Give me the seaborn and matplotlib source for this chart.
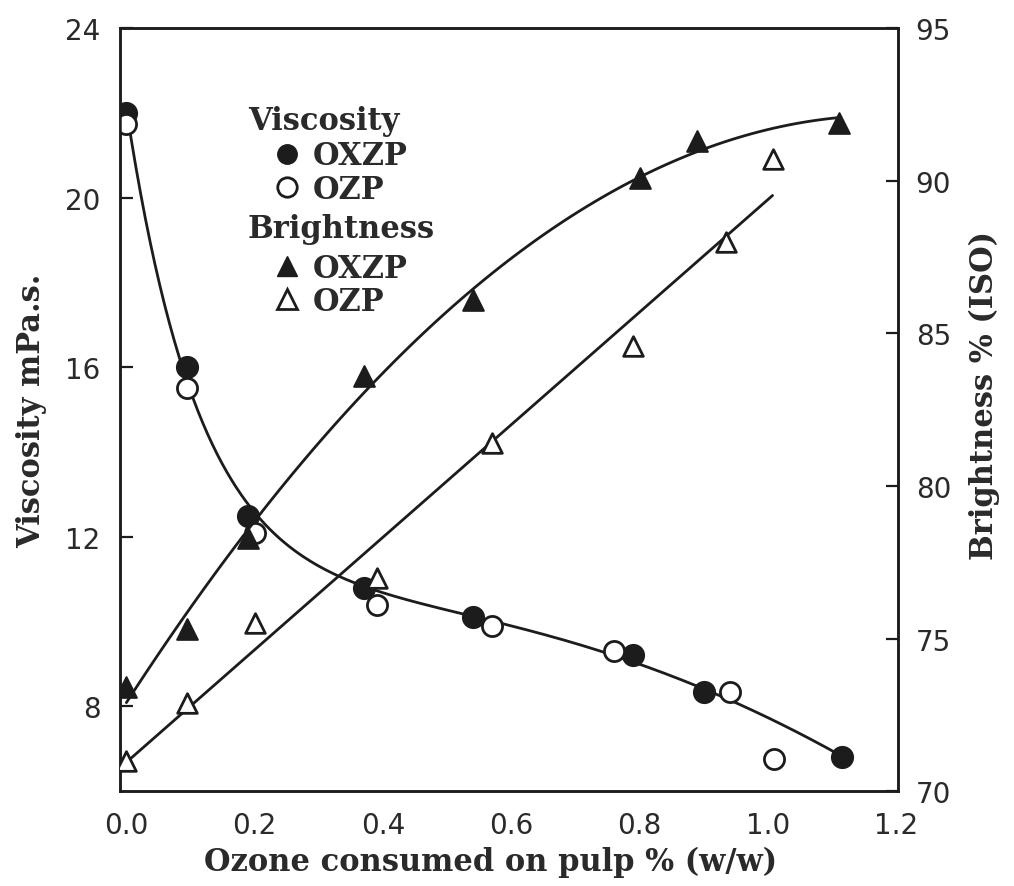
import numpy as np
import pandas as pd
import matplotlib.pyplot as plt
import seaborn as sns
from matplotlib.lines import Line2D

# --- Data ---
# Viscosity (left axis, mPa.s)
visc_oxzp_x = [0.0, 0.095, 0.19, 0.37, 0.54, 0.79, 0.90, 1.115]
visc_oxzp_y = [22.0, 16.0, 12.5, 10.8, 10.1, 9.2, 8.35, 6.8]
visc_ozp_x = [0.0, 0.095, 0.20, 0.39, 0.57, 0.76, 0.94, 1.01]
visc_ozp_y = [21.75, 15.5, 12.1, 10.4, 9.9, 9.3, 8.35, 6.75]

# Brightness (right axis, % ISO)
bright_oxzp_x = [0.0, 0.095, 0.19, 0.37, 0.54, 0.80, 0.89, 1.11]
bright_oxzp_y = [73.4, 75.3, 78.3, 83.6, 86.1, 90.1, 91.3, 91.9]
bright_ozp_x = [0.0, 0.095, 0.20, 0.39, 0.57, 0.79, 0.935, 1.007]
bright_ozp_y = [71.0, 72.9, 75.5, 77.0, 81.4, 84.6, 88.0, 90.7]

x_ticks = [0.0, 0.2, 0.4, 0.6, 0.8, 1.0, 1.2]
visc_ticks = [8, 12, 16, 20, 24]
bright_ticks = [70, 75, 80, 85, 90, 95]

ink = "#1c1c1c"
txt = "#2a2a2a"

sns.set_style("white")
plt.rcParams['font.family'] = ['DejaVu Sans']
plt.rcParams['text.color'] = txt
plt.rcParams['axes.labelcolor'] = txt
plt.rcParams['xtick.color'] = ink
plt.rcParams['ytick.color'] = ink
plt.rcParams['xtick.labelcolor'] = txt
plt.rcParams['ytick.labelcolor'] = txt

fig = plt.figure(figsize=(10.14, 8.87), dpi=100)
ax = fig.add_axes([0.1183, 0.107, 0.767, 0.860])
ax2 = ax.twinx()

# --- Viscosity: smooth decay curve fitted to the OXZP series ---
vx = np.array(visc_oxzp_x)
vy = np.array(visc_oxzp_y)
basis = lambda x: np.column_stack([np.ones_like(x), np.exp(-x / 0.12), x, x ** 2])
coef, *_ = np.linalg.lstsq(basis(vx), vy, rcond=None)
xs = np.linspace(vx.min(), vx.max(), 300)
visc_fit = pd.DataFrame({"x": xs, "y": basis(xs) @ coef})
sns.lineplot(data=visc_fit, x="x", y="y", color=ink, lw=2.0, ax=ax)

sns.scatterplot(x=visc_oxzp_x, y=visc_oxzp_y, marker="o", s=230, color=ink,
                edgecolor=ink, linewidth=1.5, zorder=4, ax=ax)
sns.scatterplot(x=visc_ozp_x, y=visc_ozp_y, marker="o", s=210, color="white",
                edgecolor=ink, linewidth=2.0, zorder=4, ax=ax)

# --- Brightness: fitted lines per series ---
sns.regplot(x=bright_oxzp_x, y=bright_oxzp_y, order=2, ci=None, scatter=False,
            truncate=True, line_kws=dict(color=ink, lw=2.0), ax=ax2)
sns.regplot(x=bright_ozp_x, y=bright_ozp_y, order=1, ci=None, scatter=False,
            truncate=True, line_kws=dict(color=ink, lw=2.0), ax=ax2)
sns.scatterplot(x=bright_oxzp_x, y=bright_oxzp_y, marker="^", s=220, color=ink,
                edgecolor=ink, linewidth=1.5, zorder=4, ax=ax2)
sns.scatterplot(x=bright_ozp_x, y=bright_ozp_y, marker="^", s=200, color="white",
                edgecolor=ink, linewidth=2.0, zorder=4, ax=ax2)

# --- Axes ---
ax.set_xlim(-0.01, 1.202)
ax.set_ylim(6, 24)
ax2.set_ylim(70, 95)
ax.set_xticks(x_ticks)
ax.set_xticklabels([f"{t:.1f}" for t in x_ticks])
ax.set_yticks(visc_ticks)
ax2.set_yticks(bright_ticks)

for a in (ax, ax2):
    for s in a.spines.values():
        s.set_color(ink)
        s.set_linewidth(1.8)
ax.tick_params(axis="both", direction="in", length=9, width=1.6, labelsize=20)
ax.tick_params(axis="x", pad=14)
ax.tick_params(axis="y", pad=14)
ax.tick_params(axis="y", which="both", right=False)
ax2.tick_params(axis="y", direction="in", length=9, width=1.6, labelsize=20, pad=13)

lab_font = dict(family="DejaVu Serif", weight="bold", size=22)
ax.set_xlabel("Ozone consumed on pulp % (w/w)", **lab_font)
ax.set_ylabel("Viscosity mPa.s.", **lab_font)
ax2.set_ylabel("Brightness % (ISO)", **lab_font)
ax.xaxis.set_label_coords(0.476, -0.092)
ax.yaxis.set_label_coords(-0.114, 0.5)
ax2.yaxis.set_label_coords(1.112, 0.52)
for lab in (ax.xaxis.label, ax.yaxis.label, ax2.yaxis.label):
    lab.set_ha("center")
    lab.set_va("center")

# --- Legend block ---
leg_font = dict(family="DejaVu Serif", weight="bold", size=22)
ax.text(0.1645, 0.879, "Viscosity", transform=ax.transAxes, va="center", ha="left",
        fontdict=leg_font)
ax.text(0.1645, 0.738, "Brightness", transform=ax.transAxes, va="center", ha="left",
        fontdict=leg_font)

h_visc = [Line2D([], [], ls="", marker="o", ms=14, mfc=ink, mec=ink, label="OXZP"),
          Line2D([], [], ls="", marker="o", ms=14, mfc="white", mec=ink, mew=2, label="OZP")]
h_bri = [Line2D([], [], ls="", marker="^", ms=14, mfc=ink, mec=ink, label="OXZP"),
         Line2D([], [], ls="", marker="^", ms=14, mfc="white", mec=ink, mew=2, label="OZP")]
leg_kw = dict(frameon=False, loc="upper left", handlelength=0.8, handletextpad=0.45,
              labelspacing=0.08, borderpad=0, borderaxespad=0,
              prop=dict(family="DejaVu Serif", weight="bold", size=22))
leg1 = ax2.legend(handles=h_visc, bbox_to_anchor=(0.199, 0.853), **leg_kw)
ax2.add_artist(leg1)
leg2 = ax2.legend(handles=h_bri, bbox_to_anchor=(0.199, 0.706), **leg_kw)

fig.savefig("out.png", dpi=100, facecolor="white")
